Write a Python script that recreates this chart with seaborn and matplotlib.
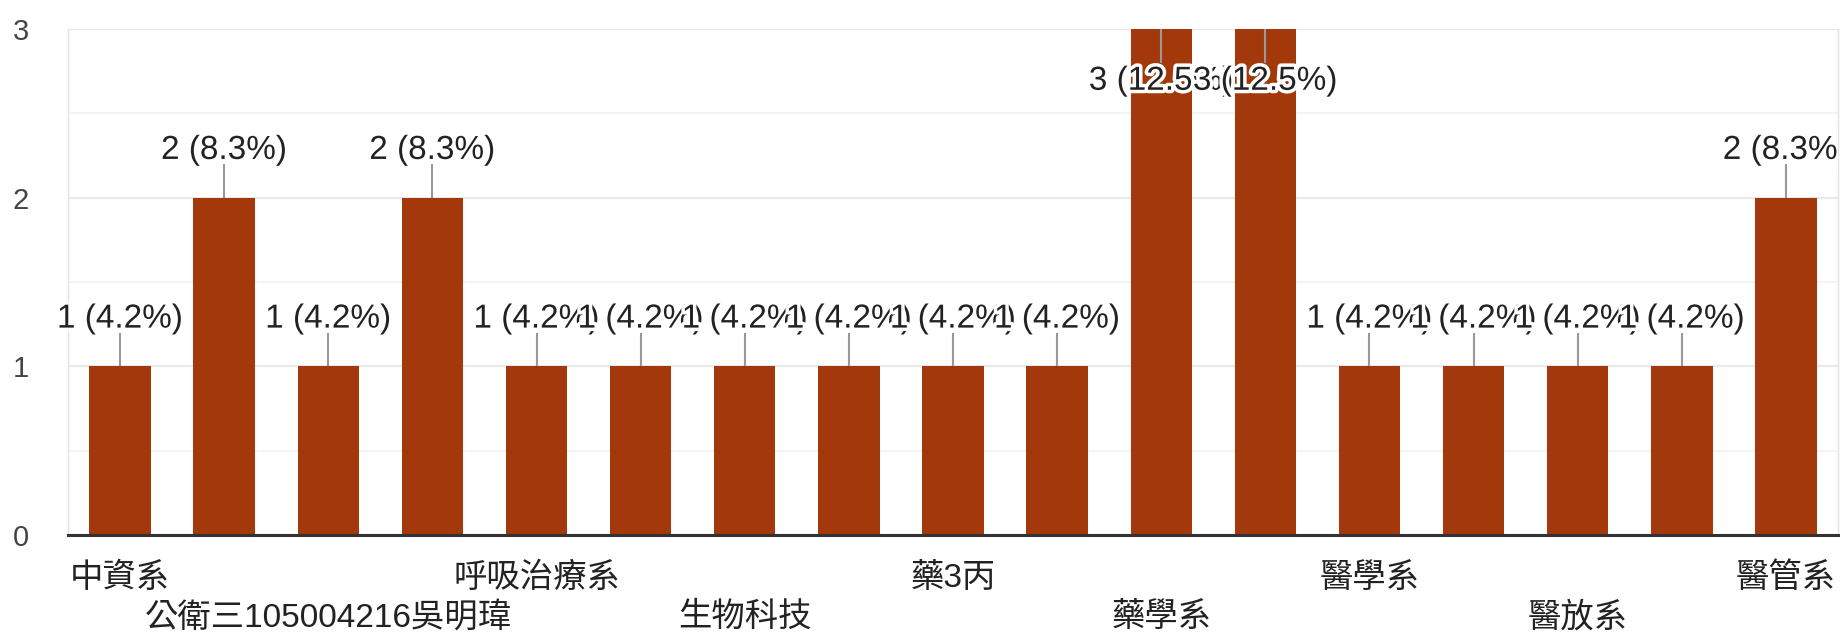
import matplotlib
matplotlib.use("Agg")
import matplotlib.pyplot as plt
import matplotlib.patheffects as pe
from matplotlib.transforms import Bbox, TransformedBbox
import seaborn as sns

# --- dane ---
CATEGORIES = [
    "中資系", "中醫系", "公衛三105004216吳明瑋", "公衛系", "呼吸治療系",
    "物治系", "生物科技", "職治系", "藥3丙", "藥二甲", "藥學系",
    "護理系", "醫學系", "醫技系", "醫放系", "醫社系", "醫管系",
]
COUNTS = [1, 2, 1, 2, 1, 1, 1, 1, 1, 1, 3, 3, 1, 1, 1, 1, 2]
Y_TICKS = [0, 1, 2, 3]

# --- wygląd ---
BAR_COLOR = "#a3390a"
FONTS = ["Liberation Sans", "Noto Sans CJK TC", "DejaVu Sans"]
W, H = 1844, 637


def main():
    sns.set_theme(style="white")
    plt.rcParams["font.family"] = FONTS

    fig = plt.figure(figsize=(W / 100, H / 100), dpi=100)
    ax = fig.add_axes([68 / W, 1 - 535 / H, (1838 - 68) / W, (535 - 29) / H])

    sns.barplot(x=CATEGORIES, y=COUNTS, color=BAR_COLOR, saturation=1,
                width=0.59, ax=ax, linewidth=0)

    ymax = Y_TICKS[-1]
    ax.set_ylim(0, ymax)
    ax.set_xlim(-0.5, len(CATEGORIES) - 0.5)

    # siatka
    ax.set_yticks(Y_TICKS)
    ax.set_yticks([t + 0.5 for t in Y_TICKS[:-1]], minor=True)
    ax.set_axisbelow(True)
    ax.grid(axis="y", which="major", color="#e8e8e8", linewidth=1.6)
    ax.grid(axis="y", which="minor", color="#f4f4f4", linewidth=1.6)
    ax.tick_params(axis="y", which="both", length=0, pad=28,
                   labelsize=21, labelcolor="#444444")

    for side in ("left", "right"):
        ax.spines[side].set_color("#e2e2e2")
        ax.spines[side].set_linewidth(1.0)
    ax.spines["top"].set_visible(False)
    ax.spines["bottom"].set_color("#333333")
    ax.spines["bottom"].set_linewidth(2.2)

    # etykiety osi X - co druga, na dwóch poziomach
    labels = []
    for i, name in enumerate(CATEGORIES):
        if i % 2:
            labels.append("")
        elif (i // 2) % 2 == 0:
            labels.append(name)
        else:
            labels.append("\n" + name)
    ax.set_xticks(range(len(CATEGORIES)))
    ax.set_xticklabels(labels, fontsize=24, color="#222222")
    for lbl in ax.get_xticklabels():
        lbl.set_linespacing(1.33)
    ax.tick_params(axis="x", length=0, pad=20)
    ax.set_xlabel("")
    ax.set_ylabel("")

    # adnotacje "n (x%)" - przycinane na prawej krawędzi wykresu
    total = sum(COUNTS)
    halo = [pe.withStroke(linewidth=5, foreground="white")]
    clip = TransformedBbox(Bbox([[0, 0], [1838 / W, 1]]), fig.transFigure)
    for i, n in enumerate(COUNTS):
        txt = f"{n} ({n / total * 100:.1f}%)"
        if n + 0.35 > ymax:
            ax.vlines(i, n - 0.2, n, color="#999999", linewidth=1.5)
            ty = n - 0.31
        else:
            ax.vlines(i, n, n + 0.2, color="#999999", linewidth=1.5)
            ty = n + 0.28
        t = ax.text(i, ty, txt, ha="center", va="center", fontsize=24,
                    color="#222222", path_effects=halo)
        t.set_clip_on(True)
        t.set_clip_box(clip)

    fig.savefig("out.png", dpi=100)
    plt.close(fig)


if __name__ == "__main__":
    main()
